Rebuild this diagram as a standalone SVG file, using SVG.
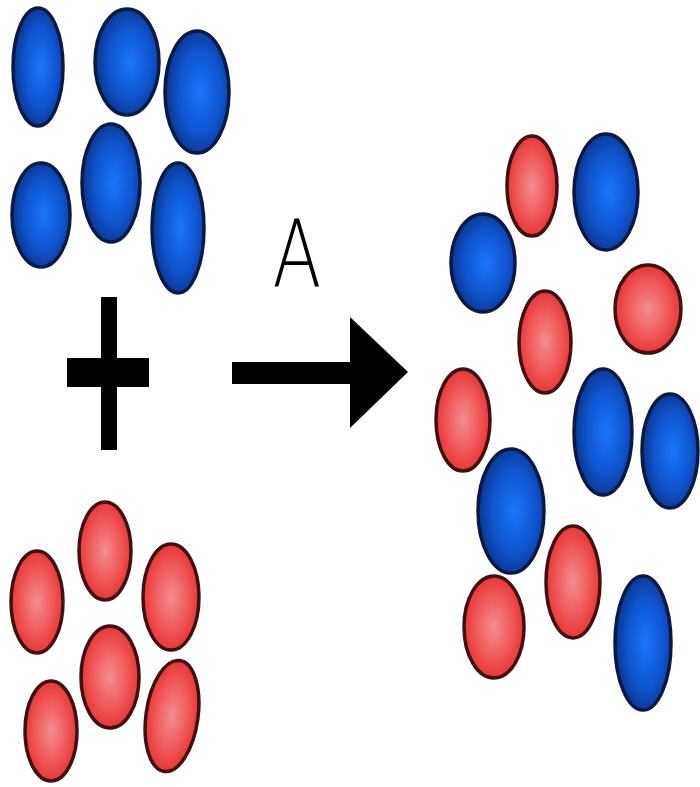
<svg xmlns="http://www.w3.org/2000/svg" width="700" height="787" viewBox="0 0 700 787">
<defs>
<radialGradient id="gb" cx="0.55" cy="0.5" r="0.55">
<stop offset="0" stop-color="#1a76fb"/>
<stop offset="0.6" stop-color="#1054d0"/>
<stop offset="1" stop-color="#0b358c"/>
</radialGradient>
<radialGradient id="gr" cx="0.5" cy="0.5" r="0.55">
<stop offset="0" stop-color="#f28e8e"/>
<stop offset="0.6" stop-color="#f05454"/>
<stop offset="1" stop-color="#e23030"/>
</radialGradient>
<style>
.b{fill:url(#gb);stroke:#0a1a44;stroke-width:3.5}
.r{fill:url(#gr);stroke:#421010;stroke-width:3.5}
.k{fill:#000}
</style>
</defs>
<rect width="700" height="787" fill="#fff"/>
<g id="reactant-blue">
<ellipse class="b" cx="38" cy="67" rx="25" ry="59"/>
<ellipse class="b" cx="127" cy="62" rx="32" ry="53"/>
<ellipse class="b" cx="197" cy="92" rx="32" ry="61"/>
<ellipse class="b" cx="41" cy="215" rx="29" ry="52"/>
<ellipse class="b" cx="111" cy="183" rx="29" ry="59"/>
<ellipse class="b" cx="178" cy="228" rx="26" ry="65"/>
</g>
<g id="reactant-red">
<ellipse class="r" cx="105" cy="551" rx="26" ry="49"/>
<ellipse class="r" cx="37" cy="602" rx="26" ry="51"/>
<ellipse class="r" cx="171" cy="597" rx="28" ry="53"/>
<ellipse class="r" cx="110" cy="677" rx="29" ry="51"/>
<ellipse class="r" cx="51" cy="731" rx="26" ry="50"/>
<ellipse class="r" cx="172" cy="716" rx="26" ry="56" transform="rotate(8 172 716)"/>
</g>
<g id="plus">
<rect class="k" x="101" y="297" width="16" height="153"/>
<rect class="k" x="67" y="358" width="82" height="29"/>
</g>
<g id="arrow">
<rect class="k" x="232" y="362" width="122" height="22"/>
<polygon class="k" points="350,317 408,372 350,428"/>
<text x="0" y="0" transform="translate(297 286) scale(1.05 1.35)" text-anchor="middle" font-family="DejaVu Sans, sans-serif" font-size="68" font-weight="300" fill="#000">A</text>
</g>
<g id="product">
<ellipse class="r" cx="532" cy="186" rx="25" ry="50"/>
<ellipse class="b" cx="606" cy="192" rx="32" ry="58"/>
<ellipse class="b" cx="483" cy="263" rx="32" ry="49"/>
<ellipse class="r" cx="648" cy="309" rx="33" ry="44"/>
<ellipse class="r" cx="545" cy="342" rx="26" ry="51"/>
<ellipse class="r" cx="463" cy="420" rx="27" ry="51"/>
<ellipse class="b" cx="603" cy="432" rx="29" ry="63"/>
<ellipse class="b" cx="670" cy="451" rx="28" ry="57"/>
<ellipse class="b" cx="511" cy="511" rx="33" ry="62"/>
<ellipse class="r" cx="573" cy="582" rx="27" ry="56"/>
<ellipse class="r" cx="494" cy="627" rx="30" ry="51"/>
<ellipse class="b" cx="643" cy="643" rx="28" ry="67"/>
</g>
</svg>
